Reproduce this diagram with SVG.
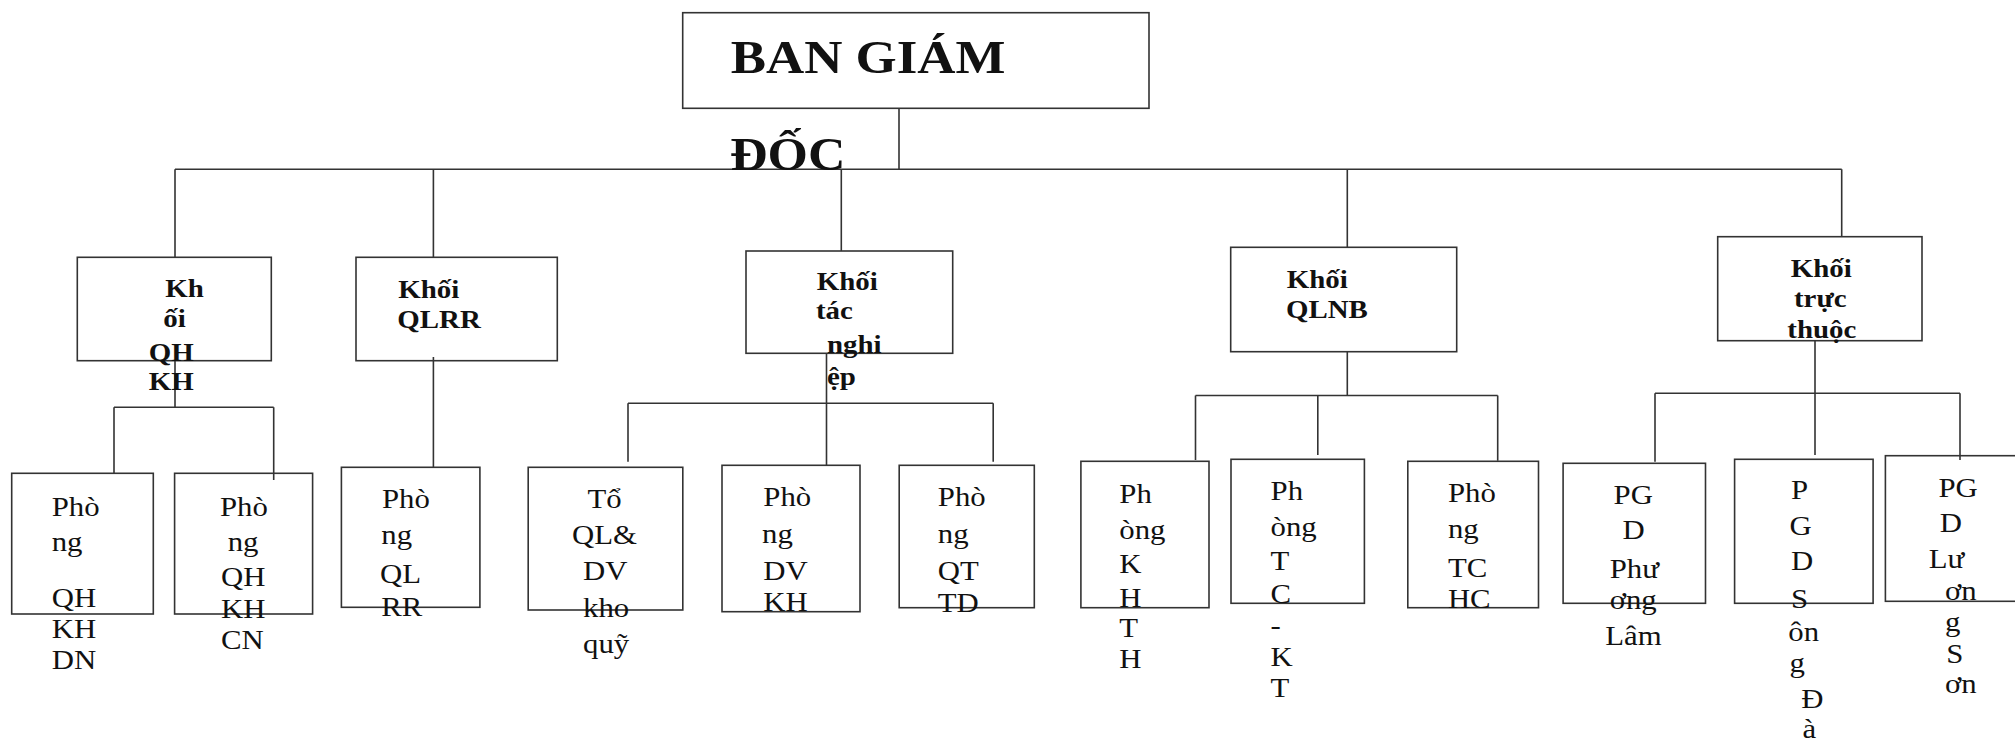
<svg xmlns="http://www.w3.org/2000/svg" width="2015" height="743" viewBox="0 0 2015 743">
<style>
.box{fill:none;stroke:#333;stroke-width:1.6}
.c{fill:none;stroke:#333;stroke-width:1.6}
.b{font-family:"Liberation Serif","Times New Roman",serif;font-weight:bold;font-size:24.5px;fill:#111}
.r{font-family:"Liberation Serif","Times New Roman",serif;font-size:27px;fill:#111}
.t{font-family:"Liberation Serif","Times New Roman",serif;font-weight:bold;font-size:46px;fill:#111}
</style>
<rect x="0" y="0" width="2015" height="743" fill="#fff"/>
<g id="connectors">
<path class="c" d="M899,108 V169.3 M175,169.3 H1841.7 M175,169.3 V257.3 M433.4,169.3 V257.3 M841.3,169.3 V251 M1347.3,169.3 V247.3 M1841.7,169.3 V236.7"/>
<path class="c" d="M175,360.7 V407.3 M114,407.3 H273.7 M114,407.3 V473.3 M273.7,407.3 V480"/>
<path class="c" d="M433.4,357 V467.3"/>
<path class="c" d="M826.5,353.3 V465.3 M628,403.3 H993.2 M628,403.3 V461.7 M993.2,403.3 V461.7"/>
<path class="c" d="M1347.3,351.7 V395.5 M1195.5,395.5 H1497.7 M1195.5,395.5 V460 M1317.8,395.5 V455 M1497.7,395.5 V460.7"/>
<path class="c" d="M1815,340.7 V455 M1655,393.3 H1960 M1655,393.3 V461.7 M1960,393.3 V460"/>
</g>
<g id="ban-giam-doc">
<rect class="box" x="682.7" y="12.7" width="466.3" height="95.6"/>
<text class="t" transform="translate(730.7,72.7) scale(1.15,1)">BAN GIÁM</text>
<text class="t" transform="translate(730,170) scale(1.13,1)">ĐỐC</text>
</g>
<g id="khoi-qhkh">
<rect class="box" x="77.3" y="257.3" width="194" height="103.4"/>
<text class="b" transform="translate(165.3,297.3) scale(1.18,1)">Kh</text>
<text class="b" transform="translate(163.3,327.3) scale(1.18,1)">ối</text>
<text class="b" transform="translate(148.7,360.7) scale(1.18,1)">QH</text>
<text class="b" transform="translate(148.7,390) scale(1.18,1)">KH</text>
</g>
<g id="khoi-qlrr">
<rect class="box" x="356" y="257.3" width="201.3" height="103.4"/>
<text class="b" transform="translate(398.3,298.3) scale(1.18,1)">Khối</text>
<text class="b" transform="translate(397.3,328.3) scale(1.18,1)">QLRR</text>
</g>
<g id="khoi-tac-nghiep">
<rect class="box" x="746" y="251" width="206.7" height="102.3"/>
<text class="b" transform="translate(816.7,290) scale(1.18,1)">Khối</text>
<text class="b" transform="translate(816,319.3) scale(1.18,1)">tác</text>
<text class="b" transform="translate(827,352.5) scale(1.18,1)">nghi</text>
<text class="b" transform="translate(827,385) scale(1.18,1)">ệp</text>
</g>
<g id="khoi-qlnb">
<rect class="box" x="1230.7" y="247.3" width="226" height="104.4"/>
<text class="b" transform="translate(1286.7,288.3) scale(1.18,1)">Khối</text>
<text class="b" transform="translate(1286,318.3) scale(1.18,1)">QLNB</text>
</g>
<g id="khoi-truc-thuoc">
<rect class="box" x="1717.7" y="236.7" width="204.3" height="104"/>
<text class="b" transform="translate(1790.7,277.3) scale(1.18,1)">Khối</text>
<text class="b" transform="translate(1794,307.3) scale(1.18,1)">trực</text>
<text class="b" transform="translate(1787.3,338.3) scale(1.18,1)">thuộc</text>
</g>
<g id="phong-qhkhdn">
<rect class="box" x="11.7" y="473.3" width="141.6" height="140.7"/>
<text class="r" transform="translate(51.7,516) scale(1.14,1)">Phò</text>
<text class="r" transform="translate(51.7,550.7) scale(1.14,1)">ng</text>
<text class="r" transform="translate(51.7,606.7) scale(1.14,1)">QH</text>
<text class="r" transform="translate(51.7,638.3) scale(1.14,1)">KH</text>
<text class="r" transform="translate(51.7,669.3) scale(1.14,1)">DN</text>
</g>
<g id="phong-qhkhcn">
<rect class="box" x="174.6" y="473.3" width="138" height="140.7"/>
<text class="r" transform="translate(220,516) scale(1.14,1)">Phò</text>
<text class="r" transform="translate(227.7,550.7) scale(1.14,1)">ng</text>
<text class="r" transform="translate(221,586) scale(1.14,1)">QH</text>
<text class="r" transform="translate(221,617.7) scale(1.14,1)">KH</text>
<text class="r" transform="translate(221,649.3) scale(1.14,1)">CN</text>
</g>
<g id="phong-qlrr">
<rect class="box" x="341.4" y="467.3" width="138.5" height="140"/>
<text class="r" transform="translate(382,508.3) scale(1.14,1)">Phò</text>
<text class="r" transform="translate(381.3,544) scale(1.14,1)">ng</text>
<text class="r" transform="translate(380,583.3) scale(1.14,1)">QL</text>
<text class="r" transform="translate(381.3,616) scale(1.14,1)">RR</text>
</g>
<g id="to-ql-dv-kho-quy">
<rect class="box" x="528.2" y="467.3" width="154.6" height="142.7"/>
<text class="r" transform="translate(587.4,508.3) scale(1.14,1)">Tổ</text>
<text class="r" transform="translate(572,544) scale(1.14,1)">QL&amp;</text>
<text class="r" transform="translate(583,580) scale(1.14,1)">DV</text>
<text class="r" transform="translate(583,616.7) scale(1.14,1)">kho</text>
<text class="r" transform="translate(583,653.3) scale(1.14,1)">quỹ</text>
</g>
<g id="phong-dvkh">
<rect class="box" x="722" y="465.3" width="138" height="146.4"/>
<text class="r" transform="translate(763.3,506) scale(1.14,1)">Phò</text>
<text class="r" transform="translate(762,542.7) scale(1.14,1)">ng</text>
<text class="r" transform="translate(763.3,580) scale(1.14,1)">DV</text>
<text class="r" transform="translate(763.3,610.7) scale(1.14,1)">KH</text>
</g>
<g id="phong-qttd">
<rect class="box" x="899.2" y="465.3" width="135.1" height="142.4"/>
<text class="r" transform="translate(937.8,506) scale(1.14,1)">Phò</text>
<text class="r" transform="translate(937.8,542.7) scale(1.14,1)">ng</text>
<text class="r" transform="translate(937.8,580) scale(1.14,1)">QT</text>
<text class="r" transform="translate(937.8,611.7) scale(1.14,1)">TD</text>
</g>
<g id="phong-khth">
<rect class="box" x="1080.9" y="461.3" width="128.1" height="146.4"/>
<text class="r" transform="translate(1119.3,503.3) scale(1.14,1)">Ph</text>
<text class="r" transform="translate(1119.3,539.3) scale(1.14,1)">òng</text>
<text class="r" transform="translate(1119.3,573.3) scale(1.14,1)">K</text>
<text class="r" transform="translate(1119.3,606.7) scale(1.14,1)">H</text>
<text class="r" transform="translate(1119.3,636.7) scale(1.14,1)">T</text>
<text class="r" transform="translate(1119.3,668.3) scale(1.14,1)">H</text>
</g>
<g id="phong-tc-kt">
<rect class="box" x="1231" y="459.3" width="133.4" height="144"/>
<text class="r" transform="translate(1270.6,500) scale(1.14,1)">Ph</text>
<text class="r" transform="translate(1270.6,536) scale(1.14,1)">òng</text>
<text class="r" transform="translate(1270.6,570) scale(1.14,1)">T</text>
<text class="r" transform="translate(1270.6,602.7) scale(1.14,1)">C</text>
<text class="r" transform="translate(1270.6,634) scale(1.14,1)">-</text>
<text class="r" transform="translate(1270.6,666) scale(1.14,1)">K</text>
<text class="r" transform="translate(1270.6,697) scale(1.14,1)">T</text>
</g>
<g id="phong-tchc">
<rect class="box" x="1407.8" y="461.3" width="130.7" height="146.4"/>
<text class="r" transform="translate(1447.9,501.7) scale(1.14,1)">Phò</text>
<text class="r" transform="translate(1447.9,538.3) scale(1.14,1)">ng</text>
<text class="r" transform="translate(1447.9,576.7) scale(1.14,1)">TC</text>
<text class="r" transform="translate(1447.9,608.3) scale(1.14,1)">HC</text>
</g>
<g id="pgd-phuong-lam">
<rect class="box" x="1563.1" y="463.3" width="142.4" height="140"/>
<text class="r" transform="translate(1613.6,504) scale(1.14,1)">PG</text>
<text class="r" transform="translate(1622.6,539.3) scale(1.14,1)">D</text>
<text class="r" transform="translate(1609.7,578.3) scale(1.14,1)">Phư</text>
<text class="r" transform="translate(1609.7,609.3) scale(1.14,1)">ơng</text>
<text class="r" transform="translate(1605.2,645) scale(1.14,1)">Lâm</text>
</g>
<g id="pgd-song-da">
<rect class="box" x="1734.6" y="459.3" width="138.5" height="144"/>
<text class="r" transform="translate(1791,499.3) scale(1.14,1)">P</text>
<text class="r" transform="translate(1789.6,535) scale(1.14,1)">G</text>
<text class="r" transform="translate(1791,570) scale(1.14,1)">D</text>
<text class="r" transform="translate(1791,608.3) scale(1.14,1)">S</text>
<text class="r" transform="translate(1788.3,640.7) scale(1.14,1)">ôn</text>
<text class="r" transform="translate(1789.6,672) scale(1.14,1)">g</text>
<text class="r" transform="translate(1801.3,708.3) scale(1.14,1)">Đ</text>
<text class="r" transform="translate(1802.6,738.3) scale(1.14,1)">à</text>
</g>
<g id="pgd-luong-son">
<rect class="box" x="1885.4" y="455.7" width="140" height="145.6"/>
<text class="r" transform="translate(1938.5,496.7) scale(1.14,1)">PG</text>
<text class="r" transform="translate(1939.8,531.7) scale(1.14,1)">D</text>
<text class="r" transform="translate(1928.8,567.7) scale(1.14,1)">Lư</text>
<text class="r" transform="translate(1945,600) scale(1.14,1)">ơn</text>
<text class="r" transform="translate(1945,631) scale(1.14,1)">g</text>
<text class="r" transform="translate(1946.3,663.3) scale(1.14,1)">S</text>
<text class="r" transform="translate(1945,693.3) scale(1.14,1)">ơn</text>
</g>
</svg>
